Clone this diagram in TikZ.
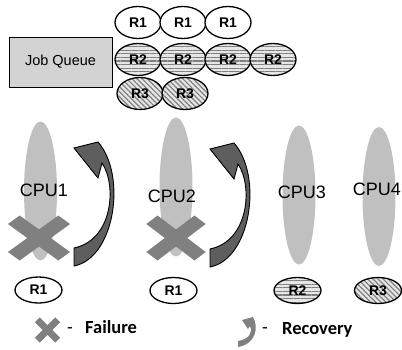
\documentclass[tikz,border=0pt]{standalone}
\usepackage{fontspec}
\setmainfont{Liberation Sans}
\newfontfamily\legendfont{Carlito}
\usetikzlibrary{shapes.geometric,patterns.meta}

\definecolor{cpugray}{HTML}{C0C0C0}
\definecolor{xgray}{HTML}{808080}
\definecolor{arrowgray}{HTML}{5E5E5E}
\definecolor{boxgray}{HTML}{D3D3D3}
\definecolor{stripebg}{HTML}{E6E6E6}
\definecolor{stripe}{HTML}{808080}

\tikzset{
  job/.style={ellipse, draw, line width=1.3pt, minimum width=46pt, minimum height=32pt,
    inner sep=0pt, font=\fontsize{14}{16}\selectfont\bfseries},
  jobsmall/.style={job, minimum width=47pt, minimum height=26pt},
  rone/.style={fill=white},
  rtwo/.style={preaction={fill=stripebg},
    pattern={Lines[angle=0,distance=3.6pt,line width=1.2pt]}, pattern color=stripe},
  rthree/.style={preaction={fill=stripebg},
    pattern={Lines[angle=-45,distance=3.6pt,line width=1.2pt]}, pattern color=stripe},
  cpu/.style={ellipse, fill=cpugray, minimum width=33pt, minimum height=139pt, inner sep=0pt},
  cpulabel/.style={font=\fontsize{18}{20}\selectfont, inner sep=0pt},
  queuebox/.style={rectangle, draw, line width=1pt, fill=boxgray, minimum width=103pt,
    minimum height=50pt, inner sep=0pt, font=\fontsize{14.5}{16}\selectfont},
  legendtext/.style={font=\legendfont\fontsize{18.5}{20}\selectfont\bfseries, inner sep=0pt},
  legenddash/.style={font=\legendfont\fontsize{18.5}{20}\selectfont, inner sep=0pt},
  % failure cross: two bands crossing at 45 degrees
  failx/.pic={
    \fill[xgray] (-22.5,-14) -- (-14,-22.5) -- (22.5,14) -- (14,22.5) -- cycle;
    \fill[xgray] (22.5,-14) -- (14,-22.5) -- (-22.5,14) -- (-14,22.5) -- cycle;
  },
  % curved recovery arrow, origin near the middle of its tail edge
  recover/.pic={
    \filldraw[fill=arrowgray, draw=black, line width=0.9pt, line join=miter]
      (0,-57) -- (24,-27) -- (28,-42)
      .. controls (43,-20) and (39,35) .. (0,43)
      -- (0,61)
      .. controls (41,53) and (53,-30) .. (24,-63)
      -- cycle;
  }
}

\begin{document}
\begin{tikzpicture}[x=1pt,y=-1pt]
\useasboundingbox (0,0) rectangle (402,349);

% job queue
\node[queuebox] (queue) at (60.5,62) {Job Queue};

\node[job,rone] (qa1) at (138,22.5) {R1};
\node[job,rone] (qa2) at (183,22.5) {R1};
\node[job,rone] (qa3) at (228,22.5) {R1};

\node[job,rtwo] (qb1) at (138,59.5) {R2};
\node[job,rtwo] (qb2) at (183,59.5) {R2};
\node[job,rtwo] (qb3) at (228,59.5) {R2};
\node[job,rtwo] (qb4) at (273,59.5) {R2};

\node[job,rthree] (qc1) at (140,93.5) {R3};
\node[job,rthree] (qc2) at (185,93.5) {R3};

% processors
\node[cpu] (cpu1) at (40.5,191) {};
\node[cpu] (cpu2) at (176,187) {};
\node[cpu] (cpu3) at (299,195) {};
\node[cpu] (cpu4) at (379,196.5) {};

\node[cpulabel] (cpu1l) at (44,190) {CPU1};
\node[cpulabel] (cpu2l) at (172,196) {CPU2};
\node[cpulabel] (cpu3l) at (302,192) {CPU3};
\node[cpulabel] (cpu4l) at (377,189) {CPU4};

% failures
\pic[xscale=1.38] at (39,238) {failx};
\pic[xscale=1.32] at (176,238) {failx};

% recoveries
\pic at (74,205) {recover};
\pic at (210,206) {recover};

% jobs running on each processor
\node[jobsmall,rone] (run1) at (38.5,290) {R1};
\node[jobsmall,rone] (run2) at (173.5,290.5) {R1};
\node[jobsmall,rtwo] (run3) at (297.5,290.5) {R2};
\node[jobsmall,rthree] (run4) at (378,290.5) {R3};

% legend
\pic[scale=0.56] at (47.5,330) {failx};
\node[legenddash, anchor=base] (dash1) at (70,333) {-};
\node[legendtext, anchor=base west] (failtxt) at (85,333) {Failure};

\fill[xgray] (242,320) -- (248,329) -- (250,326)
  .. controls (253,333) and (249,339) .. (238,341)
  -- (238,347)
  .. controls (256,344) and (259,327) .. (253,317) -- cycle;
\node[legenddash, anchor=base] (dash2) at (265,333) {-};
\node[legendtext, anchor=base west] (rectxt) at (282,334) {Recovery};
\end{tikzpicture}
\end{document}
